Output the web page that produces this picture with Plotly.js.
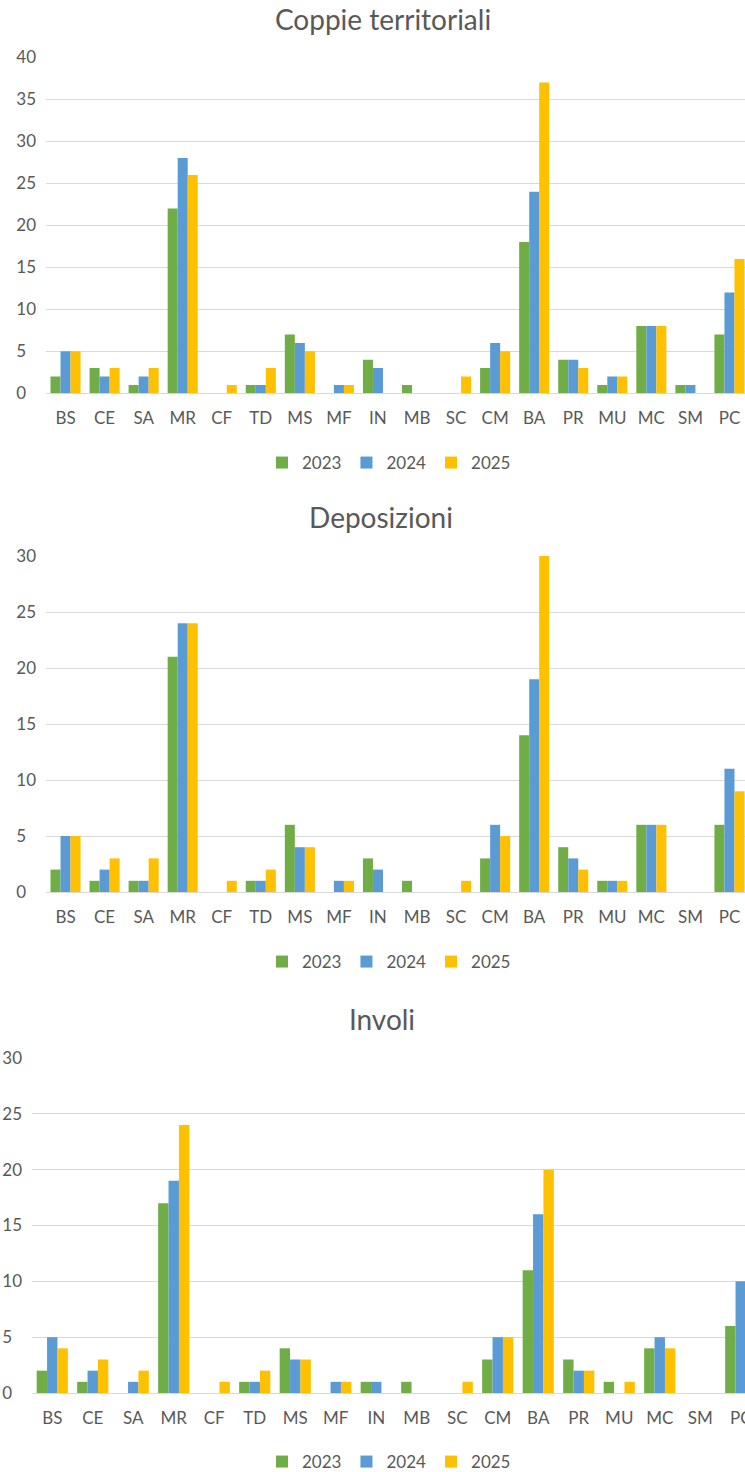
<!DOCTYPE html>
<html>
<head>
<meta charset="utf-8">
<script src="https://cdn.plot.ly/plotly-3.0.1.min.js"></script>
<style>
html, body { margin: 0; padding: 0; background: #ffffff; }
body { width: 745px; height: 1472px; overflow: hidden; position: relative; }
.chart { position: absolute; left: 0; width: 780px; }
</style>
</head>
<body>
<div id="c1" class="chart" style="top:0px;height:490px;"></div>
<div id="c2" class="chart" style="top:490px;height:500px;"></div>
<div id="c3" class="chart" style="top:990px;height:500px;"></div>
<script>
// ---- data ----
const categories = ['BS','CE','SA','MR','CF','TD','MS','MF','IN','MB','SC','CM','BA','PR','MU','MC','SM','PC'];
const years = ['2023','2024','2025'];
const colors = ['#70AD47','#5B9BD5','#FFC000'];

const coppie2023 = [2,3,1,22,0,1,7,0,4,1,0,3,18,4,1,8,1,7];
const coppie2024 = [5,2,2,28,0,1,6,1,3,0,0,6,24,4,2,8,1,12];
const coppie2025 = [5,3,3,26,1,3,5,1,0,0,2,5,37,3,2,8,0,16];

const depos2023 = [2,1,1,21,0,1,6,0,3,1,0,3,14,4,1,6,0,6];
const depos2024 = [5,2,1,24,0,1,4,1,2,0,0,6,19,3,1,6,0,11];
const depos2025 = [5,3,3,24,1,2,4,1,0,0,1,5,30,2,1,6,0,9];

const involi2023 = [2,1,0,17,0,1,4,0,1,1,0,3,11,3,1,4,0,6];
const involi2024 = [5,2,1,19,0,1,3,1,1,0,0,5,16,2,0,5,0,10];
const involi2025 = [4,3,2,24,1,2,3,1,0,0,1,5,20,2,1,4,0,null];

const titles = ['Coppie territoriali','Deposizioni','Involi'];
const yTicks1 = [0,5,10,15,20,25,30,35,40];
const yTicks23 = [0,5,10,15,20,25,30];

// ---- drawing ----
const FONT = 'Lato, "Open Sans", sans-serif';
const GREY = '#595959';
const W = 780;

function tickText(vals) {
  // pad single digits with a figure space so labels line up on the left
  return vals.map(v => v < 10 ? String(v) + '\u2007' : String(v));
}

function draw(id, title, series, ticks, g) {
  const H = g.H;
  const traces = series.map((vals, i) => ({
    type: 'bar', x: categories, y: vals, name: years[i],
    marker: { color: colors[i] }, hoverinfo: 'none'
  }));
  const layout = {
    width: W, height: H,
    margin: { l: 0, r: 0, t: 0, b: 0, pad: 0 },
    paper_bgcolor: '#ffffff', plot_bgcolor: '#ffffff',
    font: { family: FONT, color: GREY, size: 17 },
    title: { text: title, font: { family: FONT, size: 28, color: GREY },
             xref: 'paper', yref: 'paper', x: g.titleX / W, y: 1 - g.titleY / H,
             xanchor: 'center', yanchor: 'middle' },
    barmode: 'group', bargap: 0.23, bargroupgap: 0,
    showlegend: true,
    legend: { orientation: 'h', x: g.legX / W, y: 1 - g.legY / H,
              xanchor: 'center', yanchor: 'middle', font: { size: 17, color: GREY },
              traceorder: 'normal' },
    xaxis: { domain: [g.left / W, g.right / W], type: 'category',
             showgrid: false, showline: false, zeroline: false, ticks: '',
             tickfont: { size: 17, color: GREY }, ticklabelstandoff: 13, fixedrange: true },
    yaxis: { domain: [1 - g.bottom / H, 1 - g.top / H], range: [0, ticks[ticks.length - 1]],
             tickvals: ticks, ticktext: tickText(ticks),
             showgrid: true, gridcolor: '#D9D9D9', gridwidth: 1,
             zeroline: true, zerolinecolor: '#D9D9D9', zerolinewidth: 1,
             showline: false, ticks: '', tickfont: { size: 17, color: GREY },
             ticklabelstandoff: 9, fixedrange: true }
  };
  Plotly.newPlot(id, traces, layout, { staticPlot: true, displayModeBar: false });
}

draw('c1', titles[0], [coppie2023, coppie2024, coppie2025], yTicks1,
     { H: 490, left: 46, right: 749, top: 57.3, bottom: 393.3, titleX: 383, titleY: 20, legX: 389, legY: 463 });
draw('c2', titles[1], [depos2023, depos2024, depos2025], yTicks23,
     { H: 500, left: 46, right: 749, top: 66, bottom: 402, titleX: 381, titleY: 28, legX: 389, legY: 472 });
draw('c3', titles[2], [involi2023, involi2024, involi2025], yTicks23,
     { H: 500, left: 32, right: 761, top: 68, bottom: 403, titleX: 382, titleY: 30, legX: 389, legY: 472 });
</script>
</body>
</html>
